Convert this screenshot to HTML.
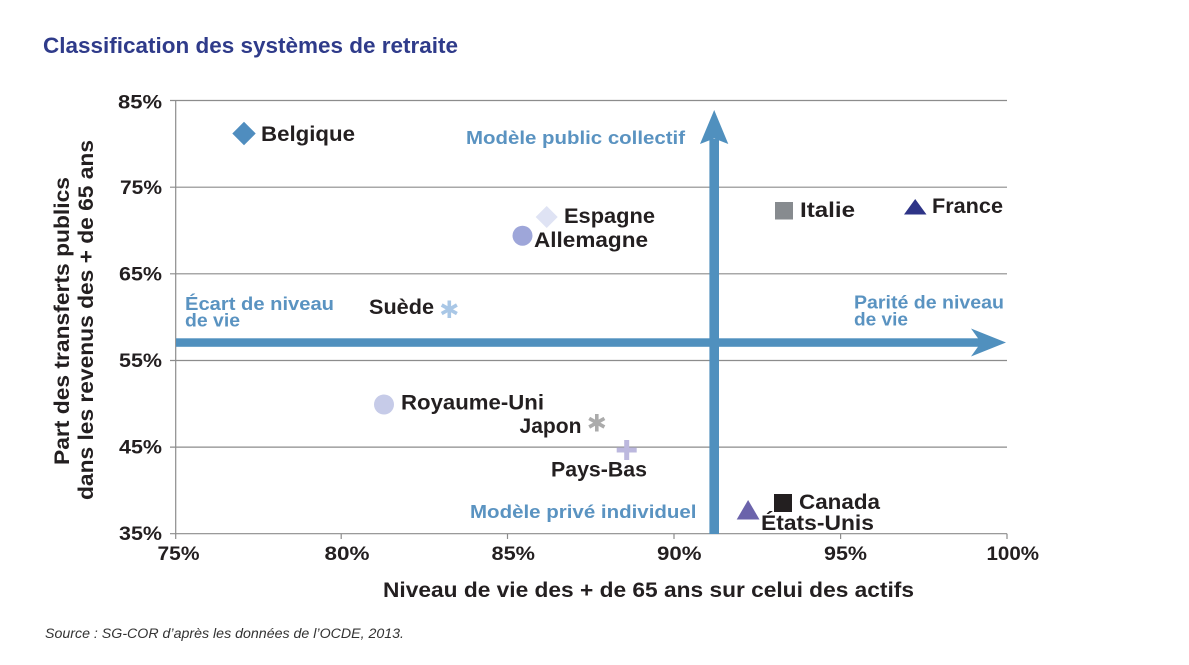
<!DOCTYPE html>
<html>
<head>
<meta charset="utf-8">
<style>
  html, body { margin: 0; padding: 0; background: #ffffff; }
  svg { display: block; }
  .t { font-family: "Liberation Sans", "DejaVu Sans", sans-serif; font-weight: bold; fill: #231f20; }
  .b { font-family: "Liberation Sans", "DejaVu Sans", sans-serif; font-weight: bold; fill: #5a93c1; }
</style>
</head>
<body>
<svg width="1189" height="665" viewBox="0 0 1189 665" xmlns="http://www.w3.org/2000/svg">
  <rect x="0" y="0" width="1189" height="665" fill="#ffffff"/>

  <!-- Title -->
  <text x="43" y="53" font-family="'Liberation Sans', sans-serif" font-weight="bold" font-size="22.5" fill="#2f3b8a" textLength="415" lengthAdjust="spacingAndGlyphs">Classification des systèmes de retraite</text>

  <!-- Gridlines -->
  <g stroke="#8c8c8c" stroke-width="1.2" fill="none">
    <line x1="170" y1="100.5" x2="1007" y2="100.5"/>
    <line x1="170" y1="187.2" x2="1007" y2="187.2"/>
    <line x1="170" y1="273.8" x2="1007" y2="273.8"/>
    <line x1="170" y1="360.5" x2="1007" y2="360.5"/>
    <line x1="170" y1="447.1" x2="1007" y2="447.1"/>
    <line x1="170" y1="533.7" x2="1007" y2="533.7"/>
    <line x1="175.7" y1="100.5" x2="175.7" y2="539"/>
    <line x1="341.2" y1="533.7" x2="341.2" y2="539"/>
    <line x1="507.5" y1="533.7" x2="507.5" y2="539"/>
    <line x1="674" y1="533.7" x2="674" y2="539"/>
    <line x1="840.6" y1="533.7" x2="840.6" y2="539"/>
    <line x1="1007" y1="533.7" x2="1007" y2="539"/>
  </g>

  <!-- Y tick labels -->
  <g class="t" font-size="19.5" text-anchor="end">
    <text x="162" y="108.5" textLength="44" lengthAdjust="spacingAndGlyphs">85%</text>
    <text x="162" y="194" textLength="42" lengthAdjust="spacingAndGlyphs">75%</text>
    <text x="162" y="280.5" textLength="43" lengthAdjust="spacingAndGlyphs">65%</text>
    <text x="162" y="367" textLength="43" lengthAdjust="spacingAndGlyphs">55%</text>
    <text x="162" y="453.5" textLength="43" lengthAdjust="spacingAndGlyphs">45%</text>
    <text x="162" y="540" textLength="43" lengthAdjust="spacingAndGlyphs">35%</text>
  </g>

  <!-- X tick labels -->
  <g class="t" font-size="19.5">
    <text x="157.5" y="560" textLength="42" lengthAdjust="spacingAndGlyphs">75%</text>
    <text x="324.5" y="560" textLength="45" lengthAdjust="spacingAndGlyphs">80%</text>
    <text x="491.5" y="560" textLength="43.5" lengthAdjust="spacingAndGlyphs">85%</text>
    <text x="657" y="560" textLength="44.5" lengthAdjust="spacingAndGlyphs">90%</text>
    <text x="824" y="560" textLength="43" lengthAdjust="spacingAndGlyphs">95%</text>
    <text x="986.5" y="560" textLength="52.5" lengthAdjust="spacingAndGlyphs">100%</text>
  </g>

  <!-- Axis titles -->
  <text class="t" x="383" y="597" font-size="21" textLength="531" lengthAdjust="spacingAndGlyphs">Niveau de vie des + de 65 ans sur celui des actifs</text>
  <text class="t" font-size="21" text-anchor="middle" transform="translate(69,321) rotate(-90)" x="0" y="0" textLength="288" lengthAdjust="spacingAndGlyphs">Part des transferts publics</text>
  <text class="t" font-size="21" text-anchor="middle" transform="translate(93,320) rotate(-90)" x="0" y="0" textLength="360" lengthAdjust="spacingAndGlyphs">dans les revenus des + de 65 ans</text>

  <!-- Arrows -->
  <g fill="#5090be">
    <rect x="176" y="338.3" width="805" height="8.5"/>
    <polygon points="971,328.5 1006,342.5 971,356.5 981,342.5"/>
    <rect x="709.4" y="139" width="9.6" height="395"/>
    <polygon points="714.2,110 728.3,144 714.2,138.5 700,144"/>
  </g>

  <!-- Blue annotation labels -->
  <g class="b" font-size="18">
    <text x="466" y="144" textLength="219" lengthAdjust="spacingAndGlyphs">Modèle public collectif</text>
    <text x="470" y="518" textLength="226.5" lengthAdjust="spacingAndGlyphs">Modèle privé individuel</text>
    <text x="185" y="310" textLength="149" lengthAdjust="spacingAndGlyphs">Écart de niveau</text>
    <text x="185" y="326.5" textLength="55" lengthAdjust="spacingAndGlyphs">de vie</text>
    <text x="854" y="308.5" textLength="150" lengthAdjust="spacingAndGlyphs">Parité de niveau</text>
    <text x="854" y="325.5" textLength="54" lengthAdjust="spacingAndGlyphs">de vie</text>
  </g>

  <!-- Markers -->
  <polygon points="244,121.8 255.7,133.5 244,145.2 232.3,133.5" fill="#4f8dbf"/>
  <polygon points="546.7,206 557.7,217 546.7,228 535.7,217" fill="#dfe3f4"/>
  <circle cx="522.5" cy="235.7" r="10" fill="#9ea6d9"/>
  <circle cx="384" cy="404.5" r="10" fill="#c6cbe8"/>
  <rect x="775" y="202" width="18" height="17.5" fill="#878b8f"/>
  <polygon points="904,214.5 926.5,214.5 915.2,199" fill="#2e3487"/>
  <rect x="774" y="494" width="18" height="18" fill="#231f20"/>
  <polygon points="736.7,519.5 759.5,519.5 748.1,500" fill="#6b63ab"/>
  <g stroke="#a9c7e6" stroke-width="3.6" stroke-linecap="butt">
    <line x1="449.3" y1="300.5" x2="449.3" y2="318"/>
    <line x1="441.7" y1="305" x2="456.9" y2="313.6"/>
    <line x1="441.7" y1="313.6" x2="456.9" y2="305"/>
  </g>
  <g stroke="#ababab" stroke-width="3.6" stroke-linecap="butt">
    <line x1="596.8" y1="414" x2="596.8" y2="431.5"/>
    <line x1="589.2" y1="418.4" x2="604.4" y2="427"/>
    <line x1="589.2" y1="427" x2="604.4" y2="418.4"/>
  </g>
  <g fill="#bcb8de">
    <rect x="616.7" y="447.5" width="20" height="5"/>
    <rect x="624.2" y="440" width="5" height="20"/>
  </g>

  <!-- Country labels -->
  <g class="t" font-size="21">
    <text x="261" y="141" textLength="94" lengthAdjust="spacingAndGlyphs">Belgique</text>
    <text x="564" y="223" textLength="91" lengthAdjust="spacingAndGlyphs">Espagne</text>
    <text x="534" y="247" textLength="114" lengthAdjust="spacingAndGlyphs">Allemagne</text>
    <text x="800" y="217" textLength="55" lengthAdjust="spacingAndGlyphs">Italie</text>
    <text x="932" y="213" textLength="71" lengthAdjust="spacingAndGlyphs">France</text>
    <text x="369" y="314" textLength="65" lengthAdjust="spacingAndGlyphs">Suède</text>
    <text x="401" y="409.5" textLength="143" lengthAdjust="spacingAndGlyphs">Royaume-Uni</text>
    <text x="519.5" y="433" textLength="62" lengthAdjust="spacingAndGlyphs">Japon</text>
    <text x="551" y="476.5" textLength="96" lengthAdjust="spacingAndGlyphs">Pays-Bas</text>
    <text x="799" y="509" textLength="81" lengthAdjust="spacingAndGlyphs">Canada</text>
    <text x="761" y="530" textLength="113" lengthAdjust="spacingAndGlyphs">États-Unis</text>
  </g>

  <!-- Source -->
  <text x="45" y="638" font-family="'Liberation Sans', sans-serif" font-style="italic" font-size="13.5" fill="#333333" textLength="359" lengthAdjust="spacingAndGlyphs">Source : SG-COR d’après les données de l’OCDE, 2013.</text>
</svg>
</body>
</html>
